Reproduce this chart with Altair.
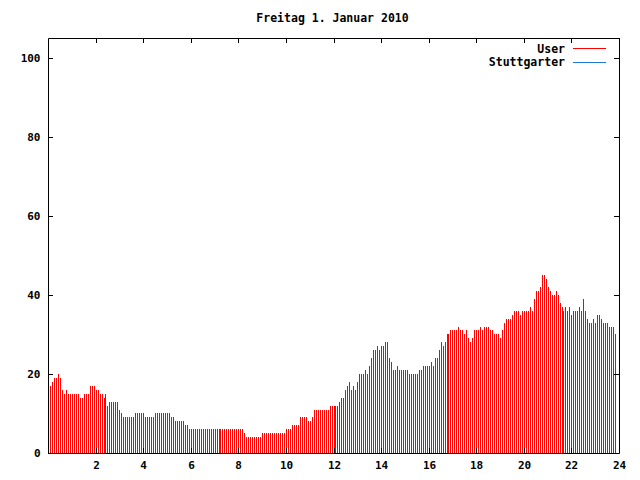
import altair as alt
import pandas as pd

TITLE = "Freitag 1. Januar 2010"

# one value every 5 minutes, starting at 00:05
values = [
    17, 18, 19, 19, 20, 19, 16, 15, 16, 15, 15, 15, 15, 15, 15, 14, 14, 15, 15, 15,
    17, 17, 17, 16, 16, 15, 15, 14, 15, 12, 13, 13, 13, 13, 13, 11, 10, 9, 9, 9,
    9, 9, 9, 10, 10, 10, 10, 10, 9, 9, 9, 9, 9, 10, 10, 10, 10, 10, 10, 10,
    10, 9, 9, 8, 8, 8, 8, 8, 7, 7, 6, 6, 6, 6, 6, 6, 6, 6, 6, 6,
    6, 6, 6, 6, 6, 6, 6, 6, 6, 6, 6, 6, 6, 6, 6, 6, 6, 6, 5, 4,
    4, 4, 4, 4, 4, 4, 4, 5, 5, 5, 5, 5, 5, 5, 5, 5, 5, 5, 5, 6,
    6, 6, 7, 7, 7, 7, 9, 9, 9, 9, 8, 8, 9, 11, 11, 11, 11, 11, 11, 11,
    11, 12, 12, 12, 12, 12, 13, 14, 14, 16, 17, 18, 16, 17, 16, 18, 20, 20, 20, 21,
    20, 22, 24, 26, 26, 27, 26, 27, 27, 28, 28, 24, 23, 21, 21, 22, 21, 21, 21, 21,
    21, 20, 20, 20, 20, 20, 21, 21, 22, 22, 22, 22, 23, 22, 24, 24, 26, 28, 27, 28,
    30, 30, 31, 31, 31, 31, 32, 31, 31, 30, 31, 29, 28, 29, 31, 31, 31, 32, 31, 32,
    32, 32, 31, 31, 30, 30, 30, 29, 31, 33, 34, 34, 34, 35, 36, 36, 36, 35, 36, 36,
    36, 36, 37, 36, 39, 41, 41, 42, 45, 45, 44, 42, 41, 40, 40, 41, 40, 38, 37, 36,
    37, 36, 37, 35, 36, 36, 36, 37, 36, 39, 36, 34, 33, 33, 34, 33, 35, 35, 34, 33,
    33, 33, 32, 32, 32, 30,
]
step_minutes = 5
series_names = ["User", "Stuttgarter"]
series_colors = ["#ff0000", "#1e78dc"]
x_ticks = [2, 4, 6, 8, 10, 12, 14, 16, 18, 20, 22, 24]
y_ticks = [0, 20, 40, 60, 80, 100]

hours = [(i + 1) * step_minutes / 60 for i in range(len(values))]
df = pd.DataFrame({"hour": hours, "value": values, "series": ["User"] * len(values)})

W, H = 571, 415
FONT = "DejaVu Sans Mono"
xscale = alt.Scale(domain=[0, 24], nice=False, zero=False, round=True)
yscale = alt.Scale(domain=[0, 105], nice=False, round=True)

bars = alt.Chart(df).mark_rule(strokeWidth=1, xOffset=0.5).encode(
    x=alt.X("hour:Q", scale=xscale,
            axis=alt.Axis(values=x_ticks, ticks=False, tickSize=0, domain=False,
                          grid=False, title=None, labelPadding=6, labelFlush=False)),
    y=alt.Y("value:Q", scale=yscale,
            axis=alt.Axis(values=y_ticks, ticks=False, tickSize=0, domain=False,
                          grid=False, title=None, labelPadding=8)),
    y2=alt.datum(0),
    color=alt.Color("series:N", scale=alt.Scale(domain=series_names, range=series_colors),
                    legend=None),
)

xt = pd.DataFrame({"t": x_ticks})
yt = pd.DataFrame({"t": y_ticks})
TL = 5
xticks_bottom = alt.Chart(xt).mark_rule(color="black", xOffset=0.5).encode(
    x=alt.X("t:Q", scale=xscale), y=alt.value(H), y2=alt.value(H - TL))
xticks_top = alt.Chart(xt).mark_rule(color="black", xOffset=0.5).encode(
    x=alt.X("t:Q", scale=xscale), y=alt.value(0), y2=alt.value(TL))
yticks_left = alt.Chart(yt).mark_rule(color="black", yOffset=0.5).encode(
    y=alt.Y("t:Q", scale=yscale), x=alt.value(0), x2=alt.value(TL))
yticks_right = alt.Chart(yt).mark_rule(color="black", yOffset=0.5).encode(
    y=alt.Y("t:Q", scale=yscale), x=alt.value(W), x2=alt.value(W - TL))

one = pd.DataFrame({"a": [0]})
title = alt.Chart(one).mark_text(font=FONT, fontSize=11.5, fontWeight="bold",
                                 color="black", baseline="middle", align="center").encode(
    text=alt.value(TITLE), x=alt.value(W / 2 - 1), y=alt.value(-19))

legend_layers = []
for k, (name, col) in enumerate(zip(series_names, series_colors)):
    yy = 10 + k * 13.5
    legend_layers.append(alt.Chart(one).mark_text(
        font=FONT, fontSize=11.5, fontWeight="bold", color="black",
        align="right", baseline="middle").encode(
        text=alt.value(name), x=alt.value(517), y=alt.value(yy + 1.5)))
    legend_layers.append(alt.Chart(one).mark_rule(color=col, strokeWidth=1).encode(
        x=alt.value(525), x2=alt.value(558), y=alt.value(round(yy) + 0.5)))

chart = alt.layer(
    bars, xticks_bottom, xticks_top, yticks_left, yticks_right, title, *legend_layers
).properties(
    width=W, height=H,
    autosize=alt.AutoSizeParams(type="none"),
    padding={"left": 40, "top": 30, "right": 13, "bottom": 19},
    background="white",
).configure_view(
    stroke="black", strokeWidth=1
).configure_axis(
    labelFont=FONT, labelFontSize=11, labelFontWeight="bold", labelColor="black"
)

chart.save("out.html", embed_options={"renderer": "svg", "actions": False})
